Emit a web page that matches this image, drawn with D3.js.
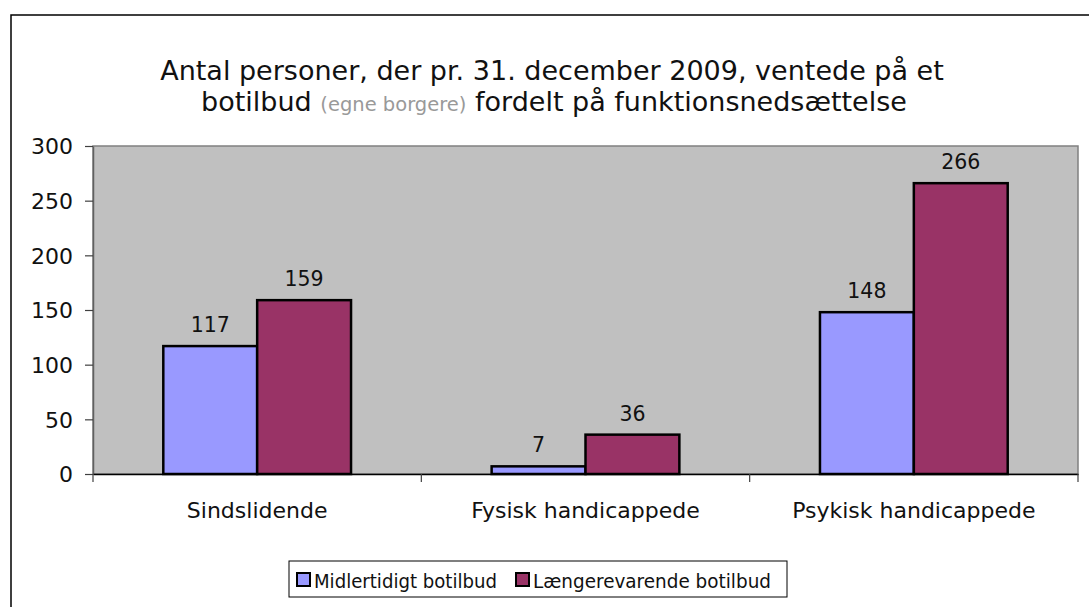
<!DOCTYPE html>
<html><head><meta charset="utf-8">
<script src="https://cdn.jsdelivr.net/npm/d3@7"></script>
<style>body{margin:0;background:#fff}svg{display:block}text{font-family:"DejaVu Sans",Verdana,sans-serif}</style>
</head><body>
<svg id="c" width="1089" height="607"></svg>
<script>
const categories = ["Sindslidende", "Fysisk handicappede", "Psykisk handicappede"];
const seriesNames = ["Midlertidigt botilbud", "Længerevarende botilbud"];
const midlertidigt = [117, 7, 148];
const laengerevarende = [159, 36, 266];
const yTicks = [0, 50, 100, 150, 200, 250, 300];
const colors = ["#9999ff", "#993366"];

(function(){
const svg = d3.select("#c");
const FONT = '"DejaVu Sans",Verdana,sans-serif';
// outer chart border
svg.append("path").attr("d","M11,607V15H1089").attr("fill","none").attr("stroke","#000").attr("stroke-width",1.5);

const pL = 93, pR = 1078, pT = 146, pB = 474;
const y = d3.scaleLinear().domain([0, 300]).range([pB, pT]);
const x0 = d3.scaleBand().domain(categories).range([pL, pR]).paddingInner(0).paddingOuter(0);
const x1 = d3.scaleBand().domain([0,1]).range([70.3, x0.bandwidth()-70.3]);

// plot area
svg.append("rect").attr("x",pL).attr("y",pT).attr("width",pR-pL).attr("height",pB-pT)
  .attr("fill","#c0c0c0").attr("stroke","#808080").attr("stroke-width",1.5);

const series = [midlertidigt, laengerevarende];
categories.forEach((c,i)=>{
  series.forEach((s,j)=>{
    svg.append("rect").attr("x",x0(c)+x1(j)).attr("y",y(s[i])).attr("width",x1.bandwidth()).attr("height",y(0)-y(s[i]))
      .attr("fill",colors[j]).attr("stroke","#000").attr("stroke-width",2.5);
    svg.append("text").attr("x",x0(c)+x1(j)+x1.bandwidth()/2).attr("y",y(s[i])-14)
      .attr("text-anchor","middle").attr("font-size",20.5).attr("fill","#111").text(s[i]);
  });
});

// y axis
const yAxis = svg.append("g").attr("transform",`translate(${pL},0)`)
  .call(d3.axisLeft(y).tickValues(yTicks).tickSize(8).tickSizeOuter(0));
yAxis.select(".domain").attr("stroke","#606060").attr("stroke-width",1.5);
yAxis.selectAll(".tick line").attr("stroke","#404040").attr("stroke-width",1.2);
yAxis.selectAll("text").attr("font-size",22).attr("fill","#111").attr("x",-20).attr("dy","0.36em").style("font-family",FONT);

// x axis
const xAxis = svg.append("g").attr("transform",`translate(0,${pB})`)
  .call(d3.axisBottom(x0).tickSize(0).tickSizeOuter(0));
xAxis.select(".domain").attr("stroke","#000").attr("stroke-width",1.5);
xAxis.selectAll("text").attr("font-size",22).attr("fill","#111").attr("y",44).attr("dy",0).style("font-family",FONT);
// category boundary ticks
const bounds = categories.map(c=>x0(c)).concat([pR]);
svg.append("g").selectAll("line").data(bounds).join("line")
  .attr("x1",d=>d).attr("x2",d=>d).attr("y1",pB).attr("y2",pB+8)
  .attr("stroke","#404040").attr("stroke-width",1.2);

// title
const t = svg.append("text").attr("text-anchor","middle").attr("font-size",27).attr("fill","#111");
t.append("tspan").attr("x",552).attr("y",80).text("Antal personer, der pr. 31. december 2009, ventede på et");
const l2 = t.append("tspan").attr("x",554).attr("y",111);
l2.append("tspan").text("botilbud ");
l2.append("tspan").attr("fill","#999").attr("font-size",19.5).text("(egne borgere)");
l2.append("tspan").text(" fordelt på funktionsnedsættelse");

// legend
const lg = svg.append("g");
lg.append("rect").attr("x",289).attr("y",561).attr("width",498).attr("height",36).attr("fill","#fff").attr("stroke","#000").attr("stroke-width",1);
const lx = [297, 516];
const lw = [183, 238];
seriesNames.forEach((n,j)=>{
  lg.append("rect").attr("x",lx[j]).attr("y",573).attr("width",13).attr("height",13).attr("fill",colors[j]).attr("stroke","#000").attr("stroke-width",2);
  lg.append("text").attr("x",lx[j]+17).attr("y",588).attr("font-size",19).attr("fill","#111")
    .attr("textLength",lw[j]).attr("lengthAdjust","spacingAndGlyphs").text(n);
});
})();
</script>
</body></html>
